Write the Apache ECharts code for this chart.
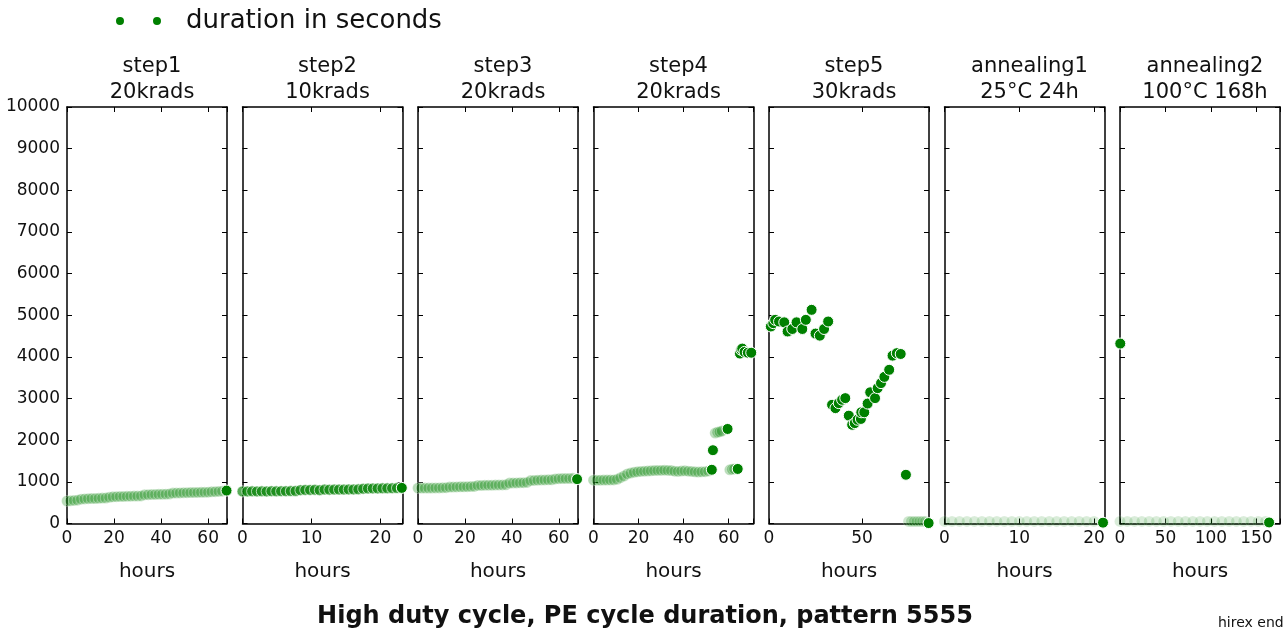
<!DOCTYPE html>
<html><head><meta charset="utf-8">
<script src="https://cdn.jsdelivr.net/npm/echarts@6/dist/echarts.min.js"></script>
<style>html,body{margin:0;padding:0;background:#fff}#c{width:1284px;height:631px}</style>
</head><body><div id="c"></div><script>
// ---- data ----
const panelTitles = ['step1\n20krads','step2\n10krads','step3\n20krads','step4\n20krads','step5\n30krads','annealing1\n25°C 24h','annealing2\n100°C 168h'];
const xMaxes = [68, 23.2, 68.2, 71, 86, 21.4, 176];
const xIntervals = [20, 10, 20, 20, 50, 10, 50];
const yTicks = [0, 10000, 1000];

const step1Faint = [[0,540],[1.5,545],[3,555],[4.5,560],[6,585],[7.5,590],[9,595],[10.5,600],[12,600],[13.5,605],[15,610],[16.5,612],[18,630],[19.5,640],[21,645],[22.5,648],[24,650],[25.5,652],[27,655],[28.5,658],[30,660],[31.5,662],[33,690],[34.5,692],[36,695],[37.5,697],[39,700],[40.5,702],[42,705],[43.5,708],[45,730],[46.5,732],[48,735],[49.5,737],[51,740],[52.5,742],[54,744],[55.5,746],[57,748],[58.5,750],[60,752],[61.5,760],[63,765],[64.5,770],[66,775]];
const step1Solid = [[67.8,790]];

const step2Mid = [[0,770],[0.7,770],[1.4,772],[2.1,770],[2.8,772],[3.5,770],[4.2,775],[4.9,772],[5.6,775],[6.3,775],[7,778],[7.7,780],[8.4,800],[9.1,805],[9.8,805],[10.5,810],[11.2,800],[11.9,815],[12.6,812],[13.3,815],[14,815],[14.7,815],[15.4,818],[16.1,818],[16.8,820],[17.5,835],[18.2,840],[18.9,842],[19.6,842],[20.3,845],[21,845],[21.7,848],[22.4,850]];
const step2Solid = [[23.1,855]];

const step3Faint = [[0,850],[1.5,850],[3,850],[4.5,852],[6,852],[7.5,855],[9,855],[10.5,858],[12,860],[13.5,875],[15,875],[16.5,878],[18,880],[19.5,880],[21,885],[22.5,888],[24,890],[25.5,915],[27,915],[28.5,918],[30,920],[31.5,920],[33,922],[34.5,925],[36,925],[37.5,928],[39,970],[40.5,972],[42,975],[43.5,978],[45,980],[46.5,985],[48,1030],[49.5,1035],[51,1040],[52.5,1042],[54,1045],[55.5,1048],[57,1050],[58.5,1070],[60,1075],[61.5,1078],[63,1080],[64.5,1082],[66,1085]];
const step3Solid = [[67.8,1065]];

const step4Faint = [[0,1040],[1.5,1040],[3,1040],[4.5,1042],[6,1042],[7.5,1045],[9,1045],[10.5,1060],[12,1100],[13.5,1140],[15,1190],[16.5,1210],[18,1230],[19.5,1240],[21,1250],[22.5,1255],[24,1260],[25.5,1265],[27,1270],[28.5,1275],[30,1275],[31.5,1280],[33,1275],[34.5,1270],[36,1255],[37.5,1250],[39,1260],[40.5,1265],[42,1255],[43.5,1250],[45,1240],[46.5,1235],[48,1240],[49.5,1245],[51,1260],[54,2170],[55,2190],[56,2200],[57,2220],[60.5,1290],[61.5,1300],[62.5,1310]];
const step4Solid = [[52.5,1290],[53,1760],[59.5,2270],[64,1310],[65,4080],[65.5,4170],[66,4200],[67,4120],[68.5,4100],[70,4100]];

const step5Solid = [[1,4730],[2.3,4810],[3.3,4890],[5.4,4850],[8.2,4830],[10,4610],[12.5,4670],[14.8,4830],[17.9,4670],[19.8,4890],[22.9,5130],[25,4560],[27.3,4510],[29.6,4670],[31.8,4850],[33.9,2850],[35.7,2770],[37.5,2890],[39.3,2970],[41,3010],[42.9,2590],[44.7,2370],[46.1,2410],[47.6,2490],[49.4,2510],[49.6,2670],[51.2,2670],[53,2880],[54.4,3150],[57,3010],[58.4,3250],[60.2,3370],[62,3520],[64.6,3690],[66.4,4030],[68.7,4090],[70.8,4070],[73.6,1170],[85.8,10]];
const step5Faint = [[75,50],[76.5,50],[78,50],[79.5,50],[81,50],[82.5,50],[84,50]];

const anneal1Faint = [[0,50],[1,50],[2,50],[3,50],[4,50],[5,50],[6,50],[7,50],[8,50],[9,50],[10,50],[11,50],[12,50],[13,50],[14,50],[15,50],[16,50],[17,50],[18,50],[19,50],[20,50]];
const anneal1Solid = [[21.2,20]];

const anneal2Faint = [[0,50],[8,50],[16,50],[24,50],[32,50],[40,50],[48,50],[56,50],[64,50],[72,50],[80,50],[88,50],[96,50],[104,50],[112,50],[120,50],[128,50],[136,50],[144,50],[152,50],[160,50]];
const anneal2Solid = [[0.3,4320],[164,25]];

const panelSeries = [
  [[step1Faint,0.28],[step1Solid,1]],
  [[step2Mid,0.65],[step2Solid,1]],
  [[step3Faint,0.28],[step3Solid,1]],
  [[step4Faint,0.28],[step4Solid,1]],
  [[step5Faint,0.2],[step5Solid,1]],
  [[anneal1Faint,0.15],[anneal1Solid,1]],
  [[anneal2Faint,0.15],[anneal2Solid,1]]
];

// ---- layout ----
const FONT = 'DejaVu Sans';
const GREEN = '#008000';
const gLeft0 = 67, gStep = 175.5, gW = 160, gTop = 107, gH = 416.5;
const grids = [], xAxes = [], yAxes = [], series = [], titles = [];
const axLine = {show:true, onZero:false, lineStyle:{color:'#000', width:1.5}};
const axTick = {show:true, inside:true, length:5, lineStyle:{color:'#000', width:1}};
panelTitles.forEach((t,i)=>{
  const left = gLeft0 + i*gStep;
  grids.push({left:left, top:gTop, width:gW, height:gH, containLabel:false});
  const iv = xIntervals[i];
  xAxes.push({type:'value', gridIndex:i, position:'bottom', min:0, max:xMaxes[i], interval:iv,
    axisLine:axLine, splitLine:{show:false}, axisTick:axTick,
    axisLabel:{show:true, fontFamily:FONT, fontSize:17, color:'#111', margin:7,
      formatter:v=> (Math.abs(v/iv - Math.round(v/iv))<1e-6 ? String(v) : '')},
    name:'hours', nameLocation:'middle', nameGap:38, nameTextStyle:{fontFamily:FONT, fontSize:20, color:'#111'}});
  xAxes.push({type:'value', gridIndex:i, position:'top', min:0, max:xMaxes[i], interval:iv,
    axisLine:axLine, splitLine:{show:false}, axisTick:axTick, axisLabel:{show:false}});
  yAxes.push({type:'value', gridIndex:i, position:'left', min:yTicks[0], max:yTicks[1], interval:yTicks[2],
    axisLine:axLine, splitLine:{show:false}, axisTick:axTick,
    axisLabel:{show:i===0, fontFamily:FONT, fontSize:17, color:'#111', margin:7, formatter:v=>String(v)}});
  yAxes.push({type:'value', gridIndex:i, position:'right', min:yTicks[0], max:yTicks[1], interval:yTicks[2],
    axisLine:axLine, splitLine:{show:false}, axisTick:axTick, axisLabel:{show:false}});
  panelSeries[i].forEach(([data,op])=>{
    series.push({type:'scatter', name:'duration in seconds', xAxisIndex:2*i, yAxisIndex:2*i,
      data:data, symbolSize:11, clip:true,
      itemStyle:{color:GREEN, opacity:op, borderColor:'#fff', borderWidth:1}});
  });
  titles.push({text:t, left:left+gW/2, top:49, textAlign:'center',
    textStyle:{fontFamily:FONT, fontSize:21, fontWeight:'normal', color:'#111', lineHeight:26}});
});
titles.push({text:'High duty cycle, PE cycle duration, pattern 5555', left:640, top:600, textAlign:'center',
  textStyle:{fontFamily:FONT, fontSize:24, fontWeight:'bold', color:'#111'}});

const option = {
  animation:false,
  backgroundColor:'#fff',
  title:titles,
  grid:grids, xAxis:xAxes, yAxis:yAxes, series:series,
  legend:{data:[{name:'duration in seconds', itemStyle:{color:GREEN, opacity:1, borderWidth:0}}],
    left:111, top:3, itemWidth:45, itemHeight:8,
    icon:'path://M0,4a4,4 0 1,0 8,0a4,4 0 1,0 -8,0 M37,4a4,4 0 1,0 8,0a4,4 0 1,0 -8,0',
    textStyle:{fontFamily:FONT, fontSize:26, color:'#111', padding:[0,0,0,20]}},
  graphic:[{type:'text', left:1218, top:616, style:{text:'hirex endurance', font:'14px "DejaVu Sans"', fill:'#111'}}]
};
const chart = echarts.init(document.getElementById('c'));
chart.setOption(option);
</script></body></html>
